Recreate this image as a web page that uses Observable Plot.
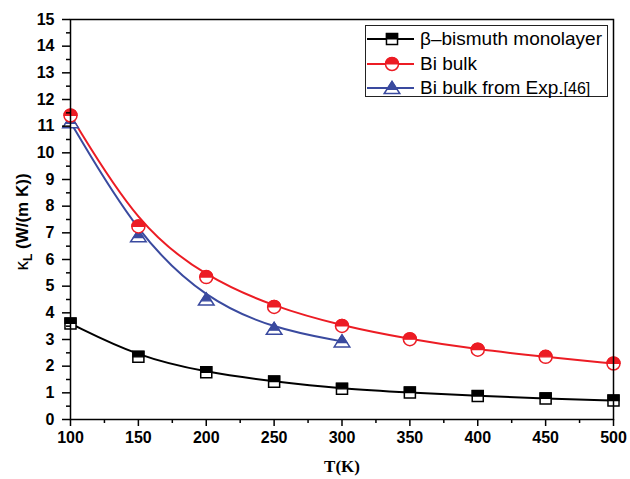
<!DOCTYPE html>
<html>
<head>
<meta charset="utf-8">
<script src="https://cdn.jsdelivr.net/npm/d3@7"></script>
<script src="https://cdn.jsdelivr.net/npm/@observablehq/plot@0.6"></script>
<style>
  body { margin: 0; background: #fff; }
  #wrap { position: relative; width: 630px; height: 479px; font-family: "Liberation Sans", Arial, sans-serif; }
  #legend { position: absolute; left: 365px; top: 25px; width: 243px; height: 72px; border: 1.5px solid #222; background: #fff; box-sizing: border-box; padding-top: 1px; }
  .row { display: flex; align-items: center; height: 24.5px; }
  .row svg { flex: none; }
  .row span { font-size: 19px; margin-left: 4px; white-space: nowrap; color: #000; }
</style>
</head>
<body>
<div id="wrap"></div>
<script>
// ---- data ----
const T = [100, 150, 200, 250, 300, 350, 400, 450, 500];
const monolayer = [3.6, 2.35, 1.77, 1.42, 1.15, 1.01, 0.88, 0.79, 0.71];
const bulk = [11.4, 7.24, 5.34, 4.22, 3.51, 3.01, 2.62, 2.35, 2.1];
const expT = [100, 150, 200, 250, 300];
const expBulk = [11.15, 6.87, 4.5, 3.4, 2.93];
const seriesNames = ["β–bismuth monolayer", "Bi bulk", "Bi bulk from Exp."];
const colors = ["#000000", "#ec1c24", "#3a4a9f"];
const xTicks = [100, 150, 200, 250, 300, 350, 400, 450, 500];
const xMinor = [125, 175, 225, 275, 325, 375, 425, 475];
const yTicks = d3.range(0, 16);
const yMinor = d3.range(0.5, 15, 1);

// ---- symbols ----
const rOf = s => Math.sqrt(s / Math.PI);
const sqFull = {draw(c, s) {const a = 0.85 * rOf(s); c.moveTo(-a, -a); c.lineTo(a, -a); c.lineTo(a, a); c.lineTo(-a, a); c.closePath();}};
const sqTop = {draw(c, s) {const a = 0.85 * rOf(s); c.moveTo(-a, -a); c.lineTo(a, -a); c.lineTo(a, 0); c.lineTo(-a, 0); c.closePath();}};
const ciFull = {draw(c, s) {const r = rOf(s); c.moveTo(r, 0); c.arc(0, 0, r, 0, 2 * Math.PI);}};
const ciTop = {draw(c, s) {const r = rOf(s); c.moveTo(-r, 0); c.arc(0, 0, r, Math.PI, 2 * Math.PI); c.closePath();}};
const trFull = {draw(c, s) {const r = rOf(s); c.moveTo(0, -1.0 * r); c.lineTo(1.2 * r, 0.85 * r); c.lineTo(-1.2 * r, 0.85 * r); c.closePath();}};
const trTop = {draw(c, s) {const r = rOf(s); const ys = 0.2 * r; const w = 1.2 * r * (ys + r) / (1.85 * r); c.moveTo(0, -1.0 * r); c.lineTo(w, ys); c.lineTo(-w, ys); c.closePath();}};

const mono = T.map((t, i) => ({t, v: monolayer[i]}));
const blk = T.map((t, i) => ({t, v: bulk[i]}));
const exp = expT.map((t, i) => ({t, v: expBulk[i]}));

function markers(data, full, top, color, r) {
  return [
    Plot.dot(data, {x: "t", y: "v", symbol: full, r, fill: "white", stroke: color, strokeWidth: 1.5}),
    Plot.dot(data, {x: "t", y: "v", symbol: top, r, fill: color, stroke: color, strokeWidth: 1.2})
  ];
}

const font = "'Liberation Sans', Arial, sans-serif";
const svg = Plot.plot({
  width: 630, height: 479,
  marginLeft: 70, marginRight: 17, marginTop: 19, marginBottom: 60,
  style: {fontFamily: font, background: "white", overflow: "visible"},
  x: {domain: [100, 500]},
  y: {domain: [0, 15]},
  marks: [
    Plot.line(mono, {x: "t", y: "v", stroke: colors[0], strokeWidth: 2, curve: "basis"}),
    Plot.line(blk, {x: "t", y: "v", stroke: colors[1], strokeWidth: 2, curve: "basis"}),
    Plot.line(exp, {x: "t", y: "v", stroke: colors[2], strokeWidth: 2, curve: "basis"}),
    ...markers(exp, trFull, trTop, colors[2], 6.5),
    ...markers(blk, ciFull, ciTop, colors[1], 6.5),
    ...markers(mono, sqFull, sqTop, colors[0], 6.5),
    Plot.axisY({ticks: yTicks, tickSize: 8, text: null, label: null, strokeWidth: 1.5}),
    Plot.axisY({ticks: yMinor, tickSize: 4, text: null, label: null, strokeWidth: 1.5}),
    Plot.axisY({ticks: yTicks, tickSize: 0, tickPadding: 16, label: null, fontSize: 16, fontWeight: "bold", fill: "#000"}),
    Plot.axisX({ticks: xTicks, tickSize: 7, text: null, label: null, strokeWidth: 1.5}),
    Plot.axisX({ticks: xMinor, tickSize: 4, text: null, label: null, strokeWidth: 1.5}),
    Plot.axisX({ticks: xTicks, tickSize: 0, tickPadding: 12, label: null, fontSize: 16, fontWeight: "bold", fill: "#000"}),
    Plot.frame({stroke: "#000", strokeWidth: 1.5}),
    Plot.text(["T(K)"], {frameAnchor: "bottom", dy: 52, text: d => d, fontSize: 17, fontWeight: "bold", fontFamily: "'Liberation Serif', 'Times New Roman', serif", fill: "#000"})
  ]
});

// y axis title with subscript
const lab = d3.select(svg).append("text")
  .attr("transform", "translate(28,222) rotate(-90)")
  .attr("text-anchor", "middle")
  .style("font-family", font).style("font-size", "17px").style("font-weight", "bold").attr("fill", "#000");
lab.append("tspan").text("κ").style("font-weight", "normal").style("font-size", "19px");
lab.append("tspan").text("L").attr("dy", 4).style("font-size", "12px");
lab.append("tspan").text(" (W/(m K))").attr("dy", -4);

const wrap = document.getElementById("wrap");
wrap.appendChild(svg);

// legend
const legendSymbols = [[sqFull, sqTop], [ciFull, ciTop], [trFull, trTop]];
const leg = document.createElement("div");
leg.id = "legend";
seriesNames.forEach((name, i) => {
  const row = document.createElement("div");
  row.className = "row";
  const s = d3.create("svg").attr("width", 50).attr("height", 24);
  s.append("line").attr("x1", 1).attr("x2", 48).attr("y1", 12).attr("y2", 12).attr("stroke", colors[i]).attr("stroke-width", 2);
  const size = Math.PI * 6.5 * 6.5;
  s.append("path").attr("transform", "translate(26,12)").attr("d", d3.symbol(legendSymbols[i][0], size)()).attr("fill", "white").attr("stroke", colors[i]).attr("stroke-width", 1.5);
  s.append("path").attr("transform", "translate(26,12)").attr("d", d3.symbol(legendSymbols[i][1], size)()).attr("fill", colors[i]).attr("stroke", colors[i]).attr("stroke-width", 1.2);
  row.appendChild(s.node());
  const span = document.createElement("span");
  span.textContent = name;
  if (i === 2) {
    const ref = document.createElement("span");
    ref.textContent = "[46]";
    ref.style.fontSize = "16px";
    ref.style.marginLeft = "0";
    span.appendChild(ref);
  }
  row.appendChild(span);
  leg.appendChild(row);
});
wrap.appendChild(leg);
</script>
</body>
</html>
